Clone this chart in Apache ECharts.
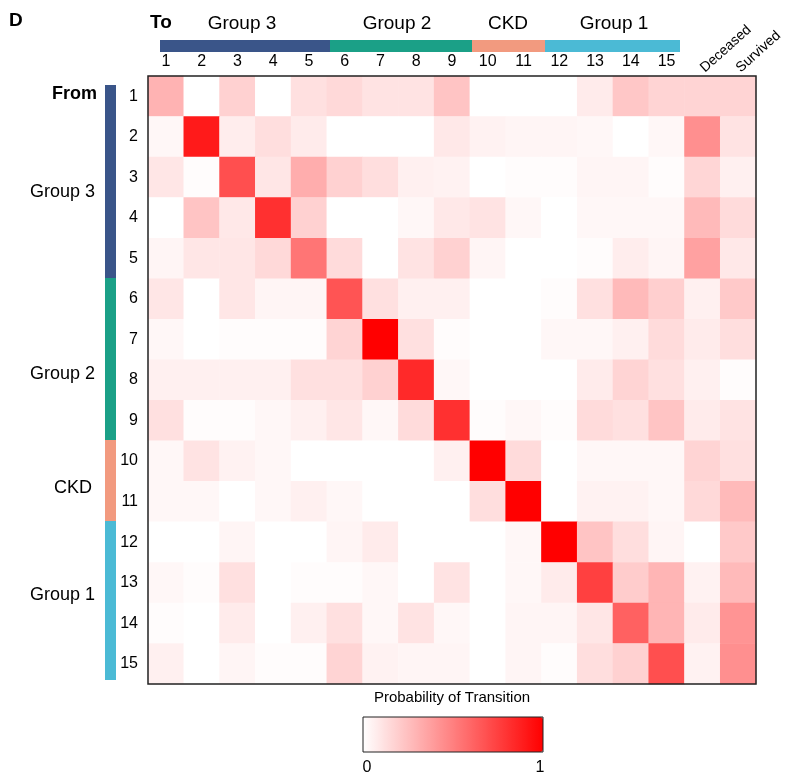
<!DOCTYPE html>
<html>
<head>
<meta charset="utf-8">
<script src="https://cdn.jsdelivr.net/npm/echarts@6/dist/echarts.min.js"></script>
<style>
  html, body { margin: 0; padding: 0; background: #fff; }
  #main { width: 786px; height: 778px; }
</style>
</head>
<body>
<div id="main"></div>
<script>
// destination states (columns) and origin states (rows)
const toLabels = ['1', '2', '3', '4', '5', '6', '7', '8', '9', '10', '11', '12', '13', '14', '15', 'Deceased', 'Survived'];
const fromLabels = ['1', '2', '3', '4', '5', '6', '7', '8', '9', '10', '11', '12', '13', '14', '15'];

// groups of states
const groupNames = ['Group 3', 'Group 2', 'CKD', 'Group 1'];
const groupColors = ['#3a5589', '#1ba087', '#f29a7f', '#4bbad5'];

// transition probabilities, one row per "From" state, columns as toLabels
const transitionProbs = [
  [0.30, 0, 0.18, 0, 0.12, 0.15, 0.11, 0.11, 0.23, 0, 0, 0, 0.08, 0.22, 0.17, 0.17, 0.17],
  [0.03, 0.90, 0.07, 0.13, 0.08, 0, 0, 0, 0.09, 0.05, 0.04, 0.04, 0.03, 0, 0.03, 0.44, 0.11],
  [0.10, 0.01, 0.69, 0.10, 0.32, 0.18, 0.13, 0.06, 0.05, 0, 0.01, 0.01, 0.04, 0.04, 0.01, 0.16, 0.06],
  [0, 0.23, 0.09, 0.81, 0.18, 0, 0, 0.03, 0.09, 0.11, 0.03, 0, 0.03, 0.03, 0.03, 0.27, 0.14],
  [0.04, 0.10, 0.10, 0.15, 0.54, 0.14, 0, 0.11, 0.18, 0.04, 0, 0, 0.01, 0.07, 0.04, 0.37, 0.09],
  [0.10, 0, 0.10, 0.04, 0.04, 0.67, 0.12, 0.06, 0.06, 0, 0, 0.01, 0.12, 0.27, 0.19, 0.06, 0.21],
  [0.03, 0, 0.01, 0.01, 0.01, 0.17, 1.0, 0.12, 0.01, 0, 0, 0.03, 0.03, 0.06, 0.14, 0.08, 0.13],
  [0.06, 0.06, 0.06, 0.06, 0.12, 0.12, 0.18, 0.84, 0.03, 0, 0, 0, 0.08, 0.17, 0.12, 0.06, 0.01],
  [0.12, 0.01, 0.01, 0.03, 0.06, 0.10, 0.03, 0.14, 0.81, 0.01, 0.03, 0.01, 0.14, 0.12, 0.23, 0.08, 0.11],
  [0.03, 0.11, 0.05, 0.03, 0, 0, 0, 0, 0.06, 1.0, 0.14, 0, 0.03, 0.03, 0.03, 0.17, 0.12],
  [0.03, 0.03, 0, 0.03, 0.06, 0.03, 0, 0, 0, 0.13, 1.0, 0, 0.05, 0.05, 0.03, 0.15, 0.27],
  [0, 0, 0.04, 0, 0, 0.04, 0.08, 0, 0, 0, 0.03, 1.0, 0.23, 0.13, 0.04, 0, 0.21],
  [0.03, 0.01, 0.12, 0, 0.01, 0.01, 0.03, 0, 0.11, 0, 0.03, 0.08, 0.75, 0.20, 0.29, 0.05, 0.27],
  [0.01, 0, 0.08, 0, 0.06, 0.12, 0.03, 0.11, 0.03, 0, 0.04, 0.04, 0.10, 0.62, 0.29, 0.08, 0.42],
  [0.06, 0, 0.04, 0.01, 0.01, 0.17, 0.05, 0.04, 0.04, 0, 0.04, 0.01, 0.13, 0.18, 0.69, 0.05, 0.44]
];

const heatData = [];
transitionProbs.forEach(function (row, r) {
  row.forEach(function (v, c) {
    heatData.push([c, r, v]);
  });
});

const FONT = "'Liberation Sans', Arial, sans-serif";

// grid box
const GL = 148, GT = 76, GW = 608, GH = 608;

let graphics = [
  { type: 'text', left: 9, top: 11, style: { text: 'D', font: 'bold 19px ' + FONT, fill: '#000' } },
  { type: 'text', left: 150, top: 13, style: { text: 'To', font: 'bold 19px ' + FONT, fill: '#000' } },
  { type: 'text', right: 689, top: 85, style: { text: 'From', font: 'bold 18px ' + FONT, fill: '#000', align: 'right' } },
  // heatmap frame
  { type: 'rect', shape: { x: GL, y: GT, width: GW, height: GH }, style: { fill: null, stroke: '#222', lineWidth: 1.5 }, z: 100 },
  // legend
  { type: 'text', x: 452, y: 698, style: { text: 'Probability of Transition', font: '15px ' + FONT, fill: '#000', align: 'center', verticalAlign: 'middle' } },
  { type: 'rect', shape: { x: 363, y: 717, width: 180, height: 35 }, style: { fill: null, stroke: '#222', lineWidth: 1 }, z: 100 },
  { type: 'text', x: 367, y: 768, style: { text: '0', font: '16px ' + FONT, fill: '#000', align: 'center', verticalAlign: 'middle' } },
  { type: 'text', x: 540, y: 768, style: { text: '1', font: '16px ' + FONT, fill: '#000', align: 'center', verticalAlign: 'middle' } }
];

// top group bars and labels
const topBars = [[160, 330], [330, 472], [472, 545], [545, 680]];
topBars.forEach(function (b, i) {
  graphics.push({ type: 'rect', shape: { x: b[0], y: 40, width: b[1] - b[0], height: 12 }, style: { fill: groupColors[i] } });
  graphics.push({ type: 'text', x: [242, 397, 508, 614][i], y: 24, style: { text: groupNames[i], font: '19px ' + FONT, fill: '#000', align: 'center', verticalAlign: 'middle' } });
});

// left group bars and labels
const leftBars = [[85, 278], [278, 440], [440, 521], [521, 680]];
const leftLabelY = [192, 374, 488, 595];
leftBars.forEach(function (b, i) {
  graphics.push({ type: 'rect', shape: { x: 105, y: b[0], width: 11, height: b[1] - b[0] }, style: { fill: groupColors[i] } });
  graphics.push({ type: 'text', x: i === 2 ? 92 : 95, y: leftLabelY[i], style: { text: groupNames[i], font: '18px ' + FONT, fill: '#000', align: 'right', verticalAlign: 'middle' } });
});

let option = {
  backgroundColor: '#fff',
  animation: false,
  grid: { left: GL, top: GT, width: GW, height: GH },
  xAxis: [
    {
      type: 'category',
      data: toLabels,
      position: 'top',
      axisLine: { show: false },
      axisTick: { show: false },
      splitArea: { show: false },
      axisLabel: {
        margin: 6,
        fontFamily: FONT,
        fontSize: 16,
        color: '#000',
        formatter: function (v) { return v.length > 2 ? '' : v; }
      }
    },
    {
      type: 'category',
      data: toLabels,
      position: 'top',
      gridIndex: 0,
      axisLine: { show: false },
      axisTick: { show: false },
      axisLabel: {
        margin: 6,
        rotate: -42,
        fontFamily: FONT,
        fontSize: 14,
        color: '#000',
        formatter: function (v) { return v.length > 2 ? v : ''; }
      }
    }
  ],
  yAxis: {
    type: 'category',
    data: fromLabels,
    inverse: true,
    axisLine: { show: false },
    axisTick: { show: false },
    axisLabel: { margin: 10, fontFamily: FONT, fontSize: 16, color: '#000' }
  },
  visualMap: {
    type: 'continuous',
    min: 0,
    max: 1,
    orient: 'horizontal',
    left: 363,
    top: 717,
    itemWidth: 35,
    itemHeight: 180,
    padding: 0,
    calculable: false,
    text: null,
    showLabel: false,
    inRange: { color: ['#ffffff', '#ff0000'] },
    seriesIndex: 0
  },
  series: [
    {
      type: 'heatmap',
      data: heatData,
      itemStyle: { borderWidth: 0 },
      emphasis: { disabled: true }
    }
  ],
  graphic: graphics
};

let myChart = echarts.init(document.getElementById('main'));
myChart.setOption(option, true);
</script>
</body>
</html>
